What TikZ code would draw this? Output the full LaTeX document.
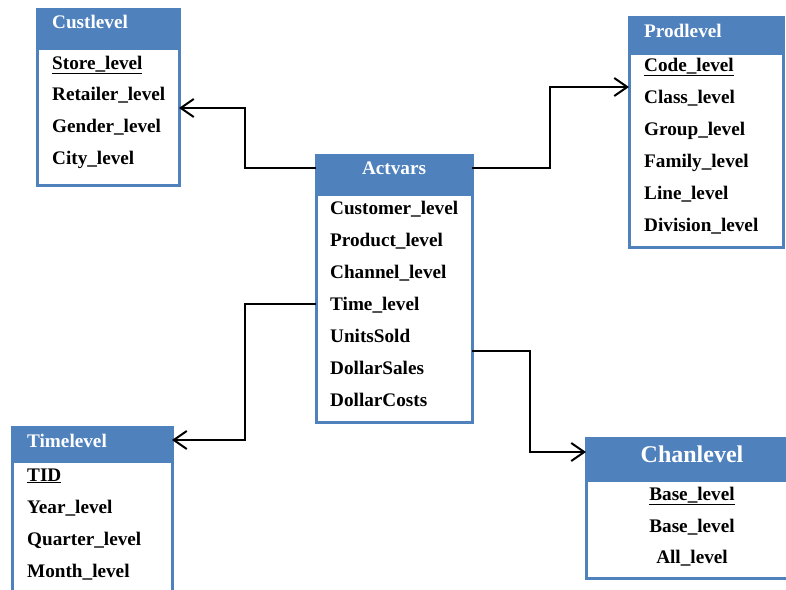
\documentclass[tikz,border=0pt]{standalone}
\usepackage{fontspec}
\setmainfont{Liberation Serif}
\usetikzlibrary{arrows.meta}
\definecolor{tabblue}{HTML}{4F81BD}

\begin{document}
\begin{tikzpicture}[x=1pt, y=-1pt,
    table/.style={draw=tabblue, line width=3pt, fill=white, inner sep=0pt, outer sep=0pt, anchor=north west},
    head/.style={fill=tabblue, inner sep=0pt, outer sep=0pt, anchor=north west},
    title/.style={text=white, font=\fontsize{19.2}{23}\selectfont\bfseries, inner sep=0pt, anchor=base west},
    field/.style={font=\fontsize{19.2}{23}\selectfont\bfseries, inner sep=0pt, anchor=base west},
    link/.style={line width=2pt, -{Straight Barb[length=13pt,width=18pt]}}]

    \clip (0,0) rectangle (786,589);

    % Table Custlevel
    \node[table, minimum width=142, minimum height=176] (cust) at (37,9) {};
    \node[head, minimum width=142, minimum height=41] (custh) at (37,9) {};
    \node[title] (custt) at (52,28) {Custlevel};
    \node[field] (store) at (52,69) {\underline{Store\_level}};
    \node[field] (retailer) at (52,100) {Retailer\_level};
    \node[field] (gender) at (52,132) {Gender\_level};
    \node[field] (city) at (52,164) {City\_level};

    % Table Prodlevel
    \node[table, minimum width=154, minimum height=230] (prod) at (629,17) {};
    \node[head, minimum width=154, minimum height=38] (prodh) at (629,17) {};
    \node[title] (prodt) at (644,37) {Prodlevel};
    \node[field] (code) at (644,71) {\underline{Code\_level}};
    \node[field] (class) at (644,103) {Class\_level};
    \node[field] (group) at (644,135) {Group\_level};
    \node[field] (family) at (644,167) {Family\_level};
    \node[field] (line) at (644,199) {Line\_level};
    \node[field] (division) at (644,231) {Division\_level};

    % Table Actvars (au centre)
    \node[table, minimum width=156, minimum height=267] (act) at (316,155) {};
    \node[head, minimum width=156, minimum height=41] (acth) at (316,155) {};
    \node[title, anchor=base] (actt) at (394,174) {Actvars};
    \node[field] (customer) at (330,214) {Customer\_level};
    \node[field] (product) at (330,246) {Product\_level};
    \node[field] (channel) at (330,278) {Channel\_level};
    \node[field] (time) at (330,310) {Time\_level};
    \node[field] (units) at (330,342) {UnitsSold};
    \node[field] (sales) at (330,374) {DollarSales};
    \node[field] (costs) at (330,406) {DollarCosts};

    % Table Timelevel
    \node[table, minimum width=160, minimum height=190] (tim) at (12,427) {};
    \node[head, minimum width=160, minimum height=36] (timh) at (12,427) {};
    \node[title] (timt) at (27,447) {Timelevel};
    \node[field] (tid) at (27,481) {\underline{TID}};
    \node[field] (year) at (27,513) {Year\_level};
    \node[field] (quarter) at (27,545) {Quarter\_level};
    \node[field] (month) at (27,577) {Month\_level};

    % Table Chanlevel
    \node[table, minimum width=220, minimum height=140] (chan) at (586,438) {};
    \node[head, minimum width=220, minimum height=44] (chanh) at (586,438) {};
    \node[title, anchor=base, font=\fontsize{24}{28}\selectfont\bfseries] (chant) at (692,462) {Chanlevel};
    \node[field, anchor=base] (base1) at (692,500) {\underline{Base\_level}};
    \node[field, anchor=base] (base2) at (692,532) {Base\_level};
    \node[field, anchor=base] (all) at (692,563) {All\_level};

    % Liens entre les tables
    \draw[link] (act.west |- 0,168) -- (245,168) |- (cust.east |- 0,108);
    \draw[link] (act.east |- 0,168) -- (550,168) |- (prod.west |- 0,87);
    \draw[link] (act.west |- 0,304) -- (245,304) |- (tim.east |- 0,440);
    \draw[link] (act.east |- 0,351) -- (530,351) |- (chan.west |- 0,452);

\end{tikzpicture}
\end{document}
